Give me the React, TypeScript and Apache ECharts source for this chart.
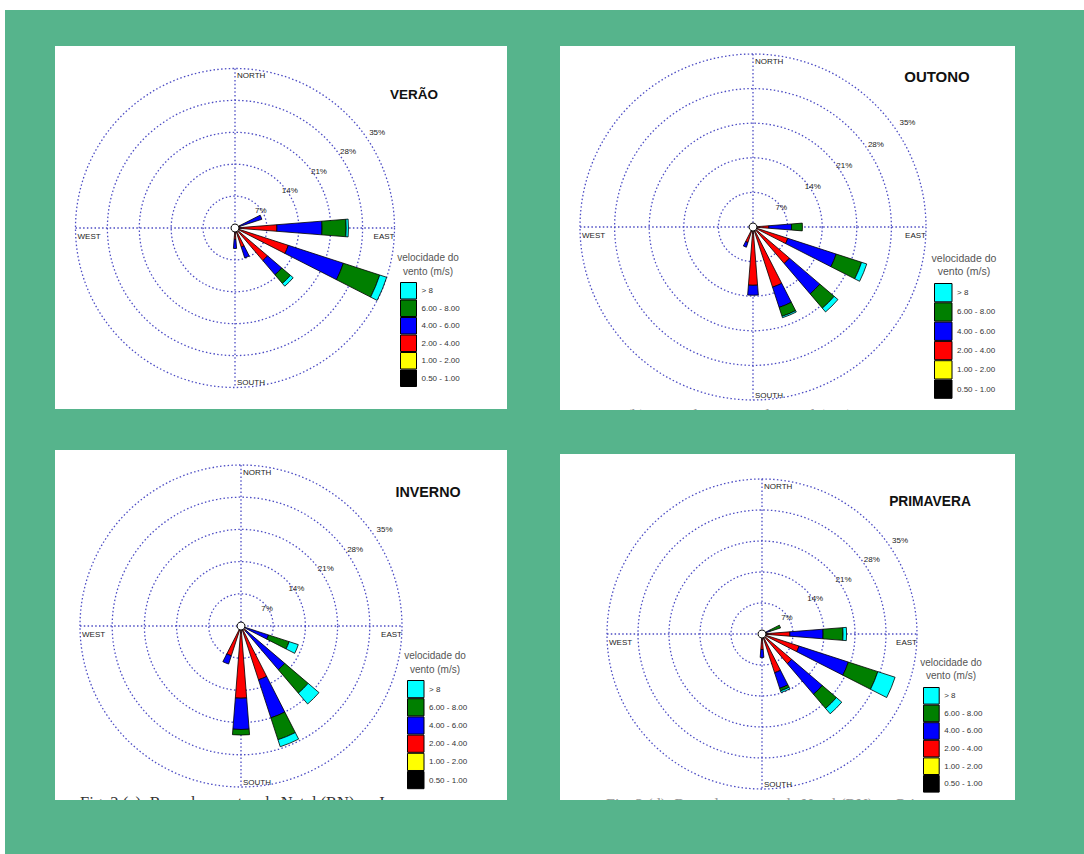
import React, { useEffect, useRef } from "react";
import * as echarts from "echarts";

// ---------- DATA ----------
const DIRECTIONS = ["N", "NNE", "NE", "ENE", "E", "ESE", "SE", "SSE", "S", "SSW", "SW", "WSW", "W", "WNW", "NW", "NNW"];
const SPEED_CLASSES = ["0.50 - 1.00", "1.00 - 2.00", "2.00 - 4.00", "4.00 - 6.00", "6.00 - 8.00", "> 8"];
const SPEED_COLORS = ["#000000", "#ffff00", "#ff0000", "#0000ff", "#007f00", "#00ffff"];
const RING_TICKS = [7, 14, 21, 28, 35];
const SEASONS = ["VERÃO", "OUTONO", "INVERNO", "PRIMAVERA"];
const COMPASS = ["NORTH", "EAST", "SOUTH", "WEST"];
const LEGEND_TITLE = "velocidade do\nvento (m/s)";
const CAPTIONS = [
  "Fig. 2 (b): Rosa dos ventos de Natal (RN) no Outono",
  "Fig. 2 (c): Rosa dos ventos de Natal (RN) no Inverno",
  "Fig. 2 (d): Rosa dos ventos de Natal (RN) na Primavera",
];

// frequency (%) of each speed class per direction (N, NNE, ... NNW)
//                    N  NNE NE  ENE  E    ESE   SE   SSE  S    SSW SW WSW W WNW NW NNW
const VERAO_050_100 = [0, 0, 0, 0.2, 0.2, 0.2, 0.2, 0.2, 0.2, 0, 0, 0, 0, 0, 0, 0];
const VERAO_100_200 = [0, 0, 0, 0.3, 0.3, 0.3, 0.3, 0.3, 0.3, 0, 0, 0, 0, 0, 0, 0];
const VERAO_200_400 = [0, 0, 0, 0.7, 8.7, 11.8, 8.9, 3.9, 2.0, 0, 0, 0, 0, 0, 0, 0];
const VERAO_400_600 = [0, 0, 0, 5.0, 9.9, 12.7, 4.1, 2.5, 2.0, 0, 0, 0, 0, 0, 0, 0];
const VERAO_600_800 = [0, 0, 0, 0, 5.3, 8.4, 2.5, 0, 0, 0, 0, 0, 0, 0, 0, 0];
const VERAO_GT8 = [0, 0, 0, 0, 0.5, 1.6, 0.8, 0, 0, 0, 0, 0, 0, 0, 0, 0];

const OUTONO_050_100 = [0, 0, 0, 0, 0.2, 0.2, 0.2, 0.2, 0.2, 0.2, 0, 0, 0, 0, 0, 0];
const OUTONO_100_200 = [0, 0, 0, 0, 0.3, 0.3, 0.3, 0.3, 0.3, 0.3, 0, 0, 0, 0, 0, 0];
const OUTONO_200_400 = [0, 0, 0, 0, 2.7, 6.9, 9.2, 12.3, 11.3, 2.8, 0, 0, 0, 0, 0, 0];
const OUTONO_400_600 = [0, 0, 0, 0, 4.6, 10.3, 8.1, 4.3, 2.0, 1.0, 0, 0, 0, 0, 0, 0];
const OUTONO_600_800 = [0, 0, 0, 0, 2.2, 5.4, 3.8, 1.9, 0, 0, 0, 0, 0, 0, 0, 0];
const OUTONO_GT8 = [0, 0, 0, 0, 0, 1.1, 1.0, 0.3, 0, 0, 0, 0, 0, 0, 0, 0];

const INVERNO_050_100 = [0, 0, 0, 0, 0, 0.2, 0.2, 0.2, 0.2, 0.2, 0, 0, 0, 0, 0, 0];
const INVERNO_100_200 = [0, 0, 0, 0, 0, 0.3, 0.3, 0.3, 0.3, 0.3, 0, 0, 0, 0, 0, 0];
const INVERNO_200_400 = [0, 0, 0, 0, 0, 0.5, 1.0, 11.8, 15.2, 6.3, 0, 0, 0, 0, 0, 0];
const INVERNO_400_600 = [0, 0, 0, 0, 0, 5.3, 11.0, 8.7, 6.8, 1.9, 0, 0, 0, 0, 0, 0];
const INVERNO_600_800 = [0, 0, 0, 0, 0, 4.7, 6.7, 5.0, 1.2, 0, 0, 0, 0, 0, 0, 0];
const INVERNO_GT8 = [0, 0, 0, 0, 0, 2.1, 3.1, 1.6, 0, 0, 0, 0, 0, 0, 0, 0];

const PRIMAVERA_050_100 = [0, 0, 0, 0.2, 0.2, 0.2, 0.2, 0.2, 0.2, 0, 0, 0, 0, 0, 0, 0];
const PRIMAVERA_100_200 = [0, 0, 0, 0.3, 0.3, 0.3, 0.3, 0.3, 0.3, 0, 0, 0, 0, 0, 0, 0];
const PRIMAVERA_200_400 = [0, 0, 0, 0.5, 5.8, 8.3, 8.3, 8.7, 3.0, 0, 0, 0, 0, 0, 0, 0];
const PRIMAVERA_400_600 = [0, 0, 0, 1.0, 7.5, 11.7, 9.1, 3.7, 1.8, 0, 0, 0, 0, 0, 0, 0];
const PRIMAVERA_600_800 = [0, 0, 0, 2.4, 4.5, 7.0, 4.2, 0.6, 0, 0, 0, 0, 0, 0, 0, 0];
const PRIMAVERA_GT8 = [0, 0, 0, 0, 0.8, 4.1, 1.6, 0.4, 0, 0, 0, 0, 0, 0, 0, 0];

const SEASON_DATA = [
  [VERAO_050_100, VERAO_100_200, VERAO_200_400, VERAO_400_600, VERAO_600_800, VERAO_GT8],
  [OUTONO_050_100, OUTONO_100_200, OUTONO_200_400, OUTONO_400_600, OUTONO_600_800, OUTONO_GT8],
  [INVERNO_050_100, INVERNO_100_200, INVERNO_200_400, INVERNO_400_600, INVERNO_600_800, INVERNO_GT8],
  [PRIMAVERA_050_100, PRIMAVERA_100_200, PRIMAVERA_200_400, PRIMAVERA_400_600, PRIMAVERA_600_800, PRIMAVERA_GT8],
];

// ---------- LAYOUT ----------
const PANELS = [
  { cx: 235, cy: 228, r: 159.5, box: [55, 46, 452, 363], title: [414, 94], titleSize: 13.5,
    legend: { x: 400, y: 282, w: 16, h: 16.5 }, legendTitle: [428, 264.5], ltSize: 10 },
  { cx: 753, cy: 227, r: 173, box: [560, 46, 455, 364], title: [937, 76], titleSize: 15,
    legend: { x: 934, y: 283, w: 17.5, h: 18.3 }, legendTitle: [964, 264.5], ltSize: 10.5 },
  { cx: 241, cy: 626, r: 161, box: [55, 450, 452, 350], title: [428, 492], titleSize: 14.3,
    legend: { x: 407, y: 680, w: 16.5, h: 17.2 }, legendTitle: [435, 662.5], ltSize: 10 },
  { cx: 762, cy: 634, r: 155, box: [560, 454, 455, 346], title: [930, 501], titleSize: 13.8,
    legend: { x: 923, y: 687, w: 15.7, h: 16.6 }, legendTitle: [951, 669], ltSize: 10 },
];

const BG_GREEN = "#56b48c";
const GRID_COLOR = "#4c4cc4";
const DASH = [1.5, 2.3];
const FONT = "'Liberation Sans', Arial, sans-serif";
const SERIF = "'Liberation Serif', 'Times New Roman', serif";

function txt(x: number, y: number, text: string, o: any) {
  const align = o.align || "left";
  const valign = o.valign || "middle";
  return {
    type: "text",
    x,
    y,
    z: o.z ?? 5,
    silent: true,
    style: {
      text,
      fill: o.fill || "#222",
      fontSize: o.size || 8,
      fontFamily: o.family || FONT,
      fontWeight: o.weight || "normal",
      lineHeight: o.lineHeight,
      align,
      verticalAlign: valign,
      textAlign: align,
      textVerticalAlign: valign,
    },
  };
}

function buildOption() {
  const graphics: any[] = [];
  graphics.push({ type: "rect", z: -100, silent: true, shape: { x: 5, y: 10, width: 1079, height: 844 }, style: { fill: BG_GREEN } });

  PANELS.forEach((p, i) => {
    graphics.push({ type: "rect", z: -90, silent: true, shape: { x: p.box[0], y: p.box[1], width: p.box[2], height: p.box[3] }, style: { fill: "#ffffff" } });
    const ls = { stroke: GRID_COLOR, lineWidth: 1.3, lineDash: DASH };
    graphics.push({ type: "line", z: 1, silent: true, shape: { x1: p.cx - p.r, y1: p.cy, x2: p.cx + p.r, y2: p.cy }, style: ls });
    graphics.push({ type: "line", z: 1, silent: true, shape: { x1: p.cx, y1: p.cy - p.r, x2: p.cx, y2: p.cy + p.r }, style: ls });
    graphics.push({ type: "circle", z: 10, silent: true, shape: { cx: p.cx, cy: p.cy, r: 4 }, style: { fill: "#ffffff", stroke: "#000000", lineWidth: 1 } });

    // compass labels
    graphics.push(txt(p.cx + 2, p.cy - p.r + 7, COMPASS[0], {}));
    graphics.push(txt(p.cx + p.r, p.cy + 8, COMPASS[1], { align: "right" }));
    graphics.push(txt(p.cx + 2, p.cy + p.r - 5, COMPASS[2], {}));
    graphics.push(txt(p.cx - p.r + 2, p.cy + 8, COMPASS[3], {}));

    // ring labels
    const a = (56 * Math.PI) / 180;
    RING_TICKS.forEach((v) => {
      const rr = ((p.r * v) / 35) * 1.1 - 4;
      graphics.push(txt(p.cx + rr * Math.sin(a), p.cy - rr * Math.cos(a), `${v}%`, { align: "center" }));
    });

    // title
    graphics.push(txt(p.title[0], p.title[1], SEASONS[i], { align: "center", size: p.titleSize, weight: "bold", fill: "#111" }));
    // legend title
    graphics.push(txt(p.legendTitle[0], p.legendTitle[1], LEGEND_TITLE, { align: "center", size: p.ltSize, fill: "#555", lineHeight: 13.5 }));
  });

  // captions (partly hidden below the panels)
  graphics.push(txt(585, 407, CAPTIONS[0], { valign: "top", size: 16, family: SERIF, fill: "#9a9a9a", z: -80 }));
  graphics.push(txt(80, 794, CAPTIONS[1], { valign: "top", size: 16.5, family: SERIF, fill: "#333", z: -80 }));
  graphics.push(txt(606, 796, CAPTIONS[2], { valign: "top", size: 16, family: SERIF, fill: "#9a9a9a", z: -80 }));
  graphics.push({ type: "rect", z: -70, silent: true, shape: { x: 520, y: 410, width: 564, height: 44 }, style: { fill: BG_GREEN } });
  graphics.push({ type: "rect", z: -70, silent: true, shape: { x: 5, y: 800, width: 1079, height: 54 }, style: { fill: BG_GREEN } });

  const series: any[] = [];
  SEASON_DATA.forEach((classes, i) => {
    classes.forEach((vals, k) => {
      series.push({
        type: "bar",
        name: SPEED_CLASSES[k],
        coordinateSystem: "polar",
        polarIndex: i,
        stack: "rose" + i,
        barWidth: "40%",
        silent: true,
        data: vals.map((v) => (v > 0 ? v : null)),
        itemStyle: { color: SPEED_COLORS[k], borderColor: "#000000", borderWidth: 0.8 },
        emphasis: { disabled: true },
      });
    });
  });

  return {
    animation: false,
    backgroundColor: "#ffffff",
    polar: PANELS.map((p) => ({ center: [p.cx, p.cy], radius: p.r })),
    angleAxis: PANELS.map((_, i) => ({
      polarIndex: i,
      type: "category",
      data: DIRECTIONS,
      startAngle: 90 + 360 / 32,
      clockwise: true,
      axisLine: { show: false },
      axisTick: { show: false },
      axisLabel: { show: false },
      splitLine: { show: false },
      splitArea: { show: false },
    })),
    radiusAxis: PANELS.map((_, i) => ({
      polarIndex: i,
      type: "value",
      min: 0,
      max: 35,
      interval: 7,
      axisLine: { show: false },
      axisTick: { show: false },
      axisLabel: { show: false },
      splitArea: { show: false },
      splitLine: { show: true, lineStyle: { color: GRID_COLOR, width: 1.3, type: DASH } },
    })),
    legend: PANELS.map((p) => ({
      orient: "vertical",
      left: p.legend.x,
      top: p.legend.y,
      itemWidth: p.legend.w,
      itemHeight: p.legend.h,
      itemGap: 0,
      padding: 0,
      icon: "rect",
      selectedMode: false,
      data: [...SPEED_CLASSES].reverse(),
      itemStyle: { borderColor: "#000000", borderWidth: 1 },
      textStyle: { fontSize: 8, color: "#333", fontFamily: FONT },
    })),
    graphic: { elements: graphics },
    series,
  };
}

export default function App() {
  const ref = useRef<HTMLDivElement>(null);
  useEffect(() => {
    const chart = echarts.init(ref.current as HTMLDivElement, null, { renderer: "svg" });
    chart.setOption(buildOption() as any);
    return () => chart.dispose();
  }, []);
  return <div ref={ref} style={{ position: "absolute", left: 0, top: 0, width: 1084, height: 854 }} />;
}
